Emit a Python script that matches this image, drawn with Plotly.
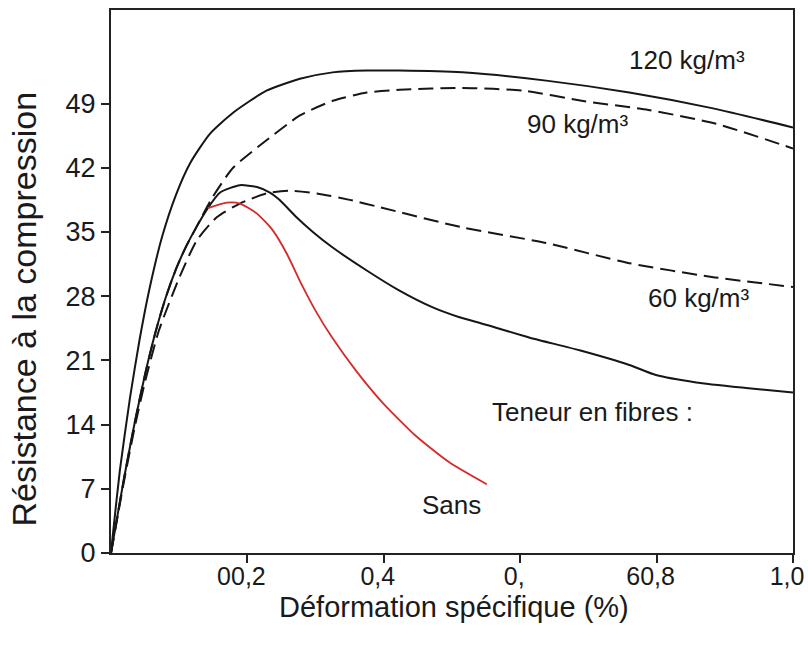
import plotly.graph_objects as go

# ---- data ----
x_120 = [0, 0.003, 0.013, 0.028, 0.042, 0.057, 0.075, 0.095, 0.116, 0.145, 0.179, 0.228,
         0.277, 0.325, 0.375, 0.423, 0.515, 0.638, 0.760, 0.881, 1.0]
y_120 = [0, 2.2, 9.0, 17.0, 23.3, 29.0, 34.5, 39.0, 42.5, 45.7, 48.0, 50.4,
         51.7, 52.4, 52.6, 52.6, 52.4, 51.5, 50.2, 48.5, 46.4]

x_90 = [0, 0.010, 0.020, 0.035, 0.050, 0.065, 0.080, 0.095, 0.110, 0.125, 0.149,
        0.179, 0.228, 0.277, 0.325, 0.375, 0.423, 0.515, 0.606, 0.690, 0.788, 0.887, 1.0]
y_90 = [0, 4.3, 8.5, 14.3, 19.5, 24.0, 27.8, 30.9, 33.4, 35.5, 38.8,
        42.0, 45.0, 47.7, 49.3, 50.2, 50.5, 50.7, 50.4, 49.3, 48.3, 46.8, 44.1]

x_60 = [0, 0.010, 0.020, 0.035, 0.050, 0.070, 0.100, 0.126, 0.155, 0.189, 0.228, 0.262, 0.302,
        0.350, 0.394, 0.515, 0.638, 0.760, 0.881, 1.0]
y_60 = [0, 4.1, 8.2, 13.8, 18.7, 24.2, 30.0, 34.1, 36.6, 38.1, 39.2, 39.5, 39.2,
        38.5, 37.7, 35.5, 33.8, 31.6, 30.1, 29.0]

x_solid = [0, 0.010, 0.020, 0.035, 0.050, 0.065, 0.080, 0.095, 0.110, 0.125, 0.142,
           0.160, 0.189, 0.214, 0.233, 0.247, 0.272, 0.296, 0.325, 0.375, 0.423, 0.471,
           0.511, 0.540, 0.613, 0.687, 0.760, 0.799, 0.858, 0.931, 1.0]
y_solid = [0, 4.3, 8.5, 14.3, 19.5, 24.0, 27.8, 30.9, 33.4, 35.5, 37.6,
           39.3, 40.1, 39.9, 39.3, 38.5, 36.6, 35.0, 33.3, 30.8, 28.6, 26.8,
           25.7, 25.1, 23.5, 22.1, 20.5, 19.4, 18.6, 18.0, 17.5]

x_sans = [0.142, 0.170, 0.189, 0.214, 0.237, 0.258, 0.280, 0.300, 0.325, 0.360, 0.398, 0.448, 0.496, 0.551]
y_sans = [37.6, 38.2, 38.1, 37.0, 35.2, 32.6, 29.2, 26.4, 23.4, 19.8, 16.4, 12.7, 9.9, 7.5]

x_tickvals = [0.2, 0.4, 0.6, 0.8, 1.0]
x_ticktext = ["00,2", "0,4", "0,", "60,8", "1,0"]
y_tickvals = [0, 7, 14, 21, 28, 35, 42, 49]

labels = ["120 kg/m³", "90 kg/m³", "60 kg/m³", "Teneur en fibres :", "Sans"]
label_x = [0.845, 0.684, 0.861, 0.706, 0.499]
label_y = [53.8, 46.8, 27.8, 15.4, 5.2]

FONT = "Liberation Sans, Arial, sans-serif"
BLACK = "#161616"
RED = "#d42a2a"
TXT = "#1a1a1a"

fig = go.Figure()
common = dict(mode="lines", showlegend=False, hoverinfo="skip")
spl = dict(shape="spline", smoothing=0.6)
fig.add_trace(go.Scatter(x=x_solid, y=y_solid, line=dict(color=BLACK, width=2, **spl), name="solid", **common))
fig.add_trace(go.Scatter(x=x_60, y=y_60, line=dict(color=BLACK, width=2, dash="15px,7px", **spl), name="60 kg/m³", **common))
fig.add_trace(go.Scatter(x=x_90, y=y_90, line=dict(color=BLACK, width=2, dash="15px,7px", **spl), name="90 kg/m³", **common))
fig.add_trace(go.Scatter(x=x_120, y=y_120, line=dict(color=BLACK, width=2, **spl), name="120 kg/m³", **common))
fig.add_trace(go.Scatter(x=x_sans, y=y_sans, line=dict(color=RED, width=1.8, **spl), name="Sans", **common))

for t, lx, ly in zip(labels, label_x, label_y):
    fig.add_annotation(x=lx, y=ly, text=t, showarrow=False, xref="x", yref="y",
                       font=dict(family=FONT, size=26, color=TXT))

# axis titles as positioned annotations
fig.add_annotation(x=-0.127, y=0.449, xref="paper", yref="paper", text="Résistance à la compression",
                   textangle=-90, showarrow=False, xanchor="center", yanchor="middle",
                   font=dict(family=FONT, size=34, color=TXT))
fig.add_annotation(x=0.503, y=-0.100, xref="paper", yref="paper", text="Déformation spécifique (%)",
                   showarrow=False, xanchor="center", yanchor="middle",
                   font=dict(family=FONT, size=29, color=TXT))

fig.update_layout(
    width=808, height=648,
    margin=dict(l=111, r=15, t=10, b=95, autoexpand=False),
    paper_bgcolor="white", plot_bgcolor="white",
    font=dict(family=FONT, size=27, color=TXT),
)
fig.update_xaxes(range=[0, 1.0], tickvals=x_tickvals, ticktext=x_ticktext, automargin=False,
                 showgrid=False, zeroline=False, showline=True, linecolor="#222", linewidth=2,
                 mirror=True, ticks="outside", ticklen=8, tickwidth=1.5, tickcolor="#222",
                 tickfont=dict(size=25), ticklabeloverflow="allow", ticklabelstandoff=-8,
                 ticklabelshift=-6)
fig.update_yaxes(range=[0, 59.2], tickvals=y_tickvals, automargin=False,
                 showgrid=False, zeroline=False, showline=True, linecolor="#222", linewidth=2,
                 mirror=True, ticks="outside", ticklen=8, tickwidth=1.5, tickcolor="#222",
                 tickfont=dict(size=27))

fig.write_html("out.html")
